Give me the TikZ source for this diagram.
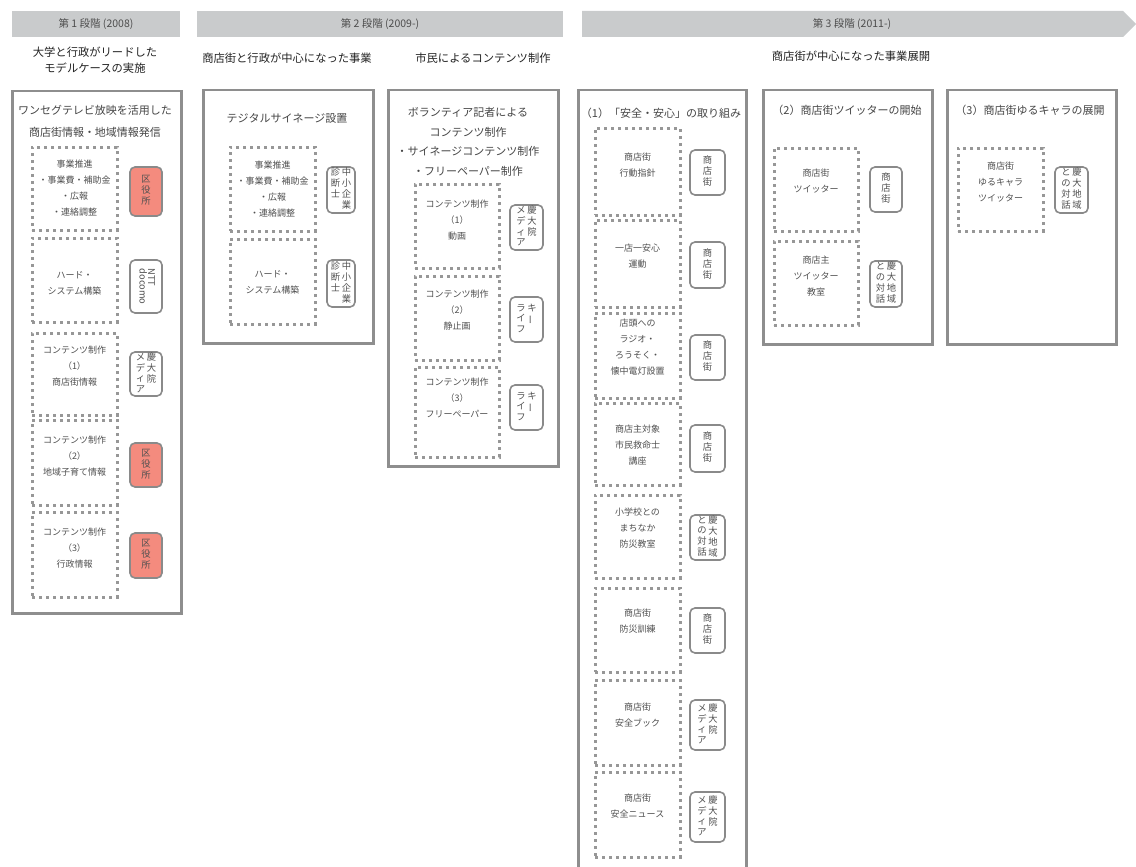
\documentclass[tikz,border=0pt]{standalone}
\usepackage{fontspec}
\setmainfont{Noto Sans CJK JP}
\usepackage{graphicx}
\definecolor{hdr}{HTML}{C9CBCC}
\definecolor{hdrtext}{HTML}{4D4D4D}
\definecolor{subtext}{HTML}{222222}
\definecolor{colborder}{HTML}{8E8E8E}
\definecolor{titletext}{HTML}{454545}
\definecolor{dotcol}{HTML}{979797}
\definecolor{boxtext}{HTML}{505050}
\definecolor{sideborder}{HTML}{8A8A8A}
\definecolor{redfill}{HTML}{F48B7E}
\newcommand\vc[1]{\begin{tabular}[t]{@{}c@{}}#1\end{tabular}}
\newcommand\vbar{\rotatebox[origin=c]{90}{ー}}
\newcommand\kuyaku{\vc{区\\役\\所}}
\newcommand\shoten{\vc{商\\店\\街}}
\newcommand\keimedia{\vc{メ\\デ\\ィ\\ア}\hspace{1.5pt}\vc{慶\\大\\院}}
\newcommand\chusho{\vc{診\\断\\士}\hspace{1.5pt}\vc{中\\小\\企\\業}}
\newcommand\keylife{\vc{ラ\\イ\\フ}\hspace{1.5pt}\vc{キ\\\vbar}}
\newcommand\keichiiki{\vc{と\\の\\対\\話}\hspace{1.5pt}\vc{慶\\大\\地\\域}}
\newcommand\nttdocomo{\rotatebox{-90}{\begin{tabular}{@{}l@{}}NTT\\[-2pt]docomo\end{tabular}}}
\newcommand\drow[7]{%
  \node[dotbox, minimum width={#4-#2}, minimum height={#5-#3}] (#1) at ({(#2+#4)/2},{(#3+#5)/2}) {};
  \node[btext, yshift=#7] (#1t) at (#1.center) {#6};}
\newcommand\sidenode[7][side]{%
  \node[#1, minimum width={#5-#3}, minimum height={#6-#4}] (#2) at ({(#3+#5)/2},{(#4+#6)/2}) {#7};}
\tikzset{
  hdrbar/.style={fill=hdr, draw=none, inner sep=0, text=hdrtext, font=\fontsize{10.5}{12}\selectfont},
  hdrtxt/.style={inner sep=0, text=hdrtext, font=\fontsize{10.5}{12}\selectfont},
  subt/.style={text=subtext, font=\fontsize{11.3}{16.5}\selectfont, align=center, inner sep=0},
  colbox/.style={draw=colborder, line width=2.5pt, fill=white, inner sep=0, anchor=north west},
  ctitle/.style={text=titletext, font=\fontsize{11}{19.5}\selectfont, align=center, inner sep=0},
  dotbox/.style={draw=dotcol, line width=3pt, dash pattern=on 3pt off 4pt, inner sep=0},
  btext/.style={text=boxtext, font=\fontsize{9}{16}\selectfont, align=center, inner sep=0},
  side/.style={draw=sideborder, line width=1.6pt, rounded corners=5pt, fill=white, inner sep=0, text=boxtext, font=\fontsize{9.3}{10.6}\selectfont},
  sidered/.style={side, fill=redfill},
}
\begin{document}
\begin{tikzpicture}[x=1pt,y=-1pt]
\useasboundingbox (0,0) rectangle (1136,867);
% headers
\node[hdrbar, minimum width=168, minimum height=26] (h1) at (96,24) {第 1 段階 (2008)};
\node[hdrbar, minimum width=366, minimum height=26] (h2) at (380,24) {第 2 段階 (2009-)};
\fill[hdr] (582,11) -- (1123,11) -- (1136,24) -- (1123,37) -- (582,37) -- cycle;
\node[hdrtxt] (h3) at (852,24) {第 3 段階 (2011-)};
% subtitles
\node[subt] (s1) at (95,60) {大学と行政がリードした\\モデルケースの実施};
\node[subt] (s2) at (287,58) {商店街と行政が中心になった事業};
\node[subt] (s3) at (483,58) {市民によるコンテンツ制作};
\node[subt] (s4) at (851,56) {商店街が中心になった事業展開};
% column boxes
\node[colbox, minimum width=169, minimum height=522] (col1) at (11,90) {};
\node[colbox, minimum width=170, minimum height=253] (col2) at (202,89) {};
\node[colbox, minimum width=170, minimum height=376] (col3) at (387,89) {};
\node[colbox, minimum width=168, minimum height=790] (col4) at (577,89) {};
\node[colbox, minimum width=169, minimum height=254] (col5) at (762,89) {};
\node[colbox, minimum width=169, minimum height=254] (col6) at (946,89) {};
% column titles
\node[ctitle, font=\fontsize{11}{22}\selectfont] (t1) at (95,121) {ワンセグテレビ放映を活用した\\商店街情報・地域情報発信};
\node[ctitle] (t2) at (287,118) {テジタルサイネージ設置};
\node[ctitle] (t3) at (468,142) {ボランティア記者による\\コンテンツ制作\\・サイネージコンテンツ制作\\・フリーペーパー制作};
\node[ctitle] (t4) at (661,113) {（1）「安全・安心」の取り組み};
\node[ctitle] (t5) at (847,110) {（2）商店街ツイッターの開始};
\node[ctitle] (t6) at (1030,110) {（3）商店街ゆるキャラの展開};
% column 1
\drow{a1}{32}{147}{117}{230}{事業推進\\・事業費・補助金\\・広報\\・連絡調整}{0}
\sidenode[sidered]{a1s}{130}{167}{162}{216}{\kuyaku}
\drow{a2}{32}{238}{117}{322}{ハード・\\システム構築}{-3}
\sidenode{a2s}{130}{260}{162}{313}{\nttdocomo}
\drow{a3}{32}{333}{117}{415}{コンテンツ制作\\（1）\\商店街情報}{8}
\sidenode{a3s}{130}{352}{162}{396}{\keimedia}
\drow{a4}{32}{420}{117}{505}{コンテンツ制作\\（2）\\地域子育て情報}{6}
\sidenode[sidered]{a4s}{130}{443}{162}{487}{\kuyaku}
\drow{a5}{32}{512}{117}{597}{コンテンツ制作\\（3）\\行政情報}{6}
\sidenode[sidered]{a5s}{130}{533}{162}{578}{\kuyaku}
% column 2
\drow{b1}{230}{147}{315}{231}{事業推進\\・事業費・補助金\\・広報\\・連絡調整}{0}
\sidenode{b1s}{327}{167}{355}{213}{\chusho}
\drow{b2}{230}{239}{315}{324}{ハード・\\システム構築}{-1}
\sidenode{b2s}{327}{260}{355}{307}{\chusho}
% column 3
\drow{c1}{415}{184}{499}{268}{コンテンツ制作\\（1）\\動画}{6}
\sidenode{c1s}{510}{205}{543}{250}{\keimedia}
\drow{c2}{415}{276}{499}{360}{コンテンツ制作\\（2）\\静止画}{8}
\sidenode{c2s}{510}{297}{543}{342}{\keylife}
\drow{c3}{415}{367}{499}{457}{コンテンツ制作\\（3）\\フリーペーパー}{14}
\sidenode{c3s}{510}{385}{543}{430}{\keylife}
% column 4
\drow{d1}{595}{128}{680}{215}{商店街\\行動指針}{6.5}
\sidenode{d1s}{690}{150}{725}{195}{\shoten}
\drow{d2}{595}{220}{680}{307}{一店一安心\\運動}{7.5}
\sidenode{d2s}{690}{242}{725}{288}{\shoten}
\drow{d3}{595}{313}{680}{398}{店頭への\\ラジオ・\\ろうそく・\\懐中電灯設置}{8.5}
\sidenode{d3s}{690}{335}{725}{380}{\shoten}
\drow{d4}{595}{403}{680}{485}{商店主対象\\市民救命士\\講座}{-1}
\sidenode{d4s}{690}{425}{725}{472}{\shoten}
\drow{d5}{595}{495}{680}{578}{小学校との\\まちなか\\防災教室}{8.5}
\sidenode{d5s}{690}{515}{725}{560}{\keichiiki}
\drow{d6}{595}{588}{680}{672}{商店街\\防災訓練}{9}
\sidenode{d6s}{690}{608}{725}{653}{\shoten}
\drow{d7}{595}{680}{680}{765}{商店街\\安全ブック}{7.5}
\sidenode{d7s}{690}{700}{725}{750}{\keimedia}
\drow{d8}{595}{772}{680}{857}{商店街\\安全ニュース}{8.5}
\sidenode{d8s}{690}{792}{725}{842}{\keimedia}
% column 5
\drow{e1}{774}{148}{858}{231}{商店街\\ツイッター}{8.5}
\sidenode{e1s}{870}{167}{902}{212}{\shoten}
\drow{e2}{774}{241}{858}{325}{商店主\\ツイッター\\教室}{7}
\sidenode{e2s}{870}{261}{902}{307}{\keichiiki}
% column 6
\drow{f1}{958}{148}{1043}{231}{商店街\\ゆるキャラ\\ツイッター}{7.5}
\sidenode{f1s}{1055}{167}{1088}{213}{\keichiiki}
\end{tikzpicture}
\end{document}
